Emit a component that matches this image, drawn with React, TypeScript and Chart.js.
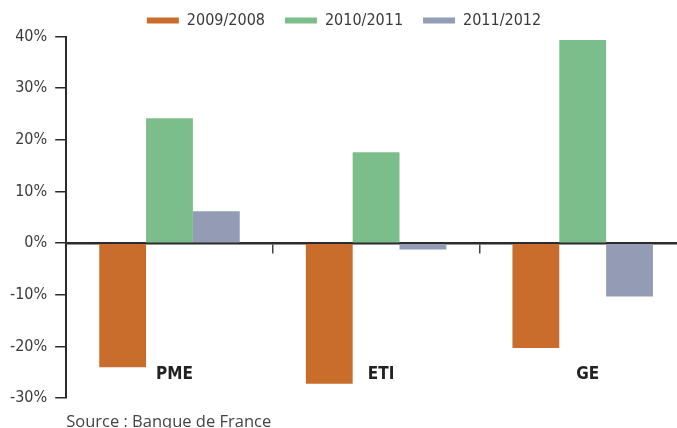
import React, { useEffect, useRef } from "react";
import { Chart, registerables } from "chart.js";

Chart.register(...registerables);

// ---- Data ----
const categories = ["PME", "ETI", "GE"];
const seriesLabels = ["2009/2008", "2010/2011", "2011/2012"];
const values2009vs2008 = [-24.0, -27.2, -20.3];
const values2010vs2011 = [24.2, 17.6, 39.3];
const values2011vs2012 = [6.2, -1.2, -10.3];
const yMin = -30;
const yMax = 40;
const yStep = 10;
const sourceText = "Source : Banque de France";

// ---- Styles ----
const seriesColors = ["#C96D2D", "#7CBE8B", "#939CB4"];
const narrow = "'DejaVu Sans Condensed', 'Liberation Sans', sans-serif";
const textColor = "#3a3a3a";
const axisColor = "#2b2b2b";
const categoryLabelLevel = -25.4;

const categoryLabelPlugin = {
  id: "categoryLabels",
  afterDraw(chart: any) {
    const { ctx, scales } = chart;
    const x = scales.x;
    const y = scales.y;
    ctx.save();
    ctx.font = `bold 17px ${narrow}`;
    ctx.fillStyle = "#222";
    ctx.textAlign = "center";
    ctx.textBaseline = "middle";
    categories.forEach((c, i) => {
      ctx.fillText(c, x.getPixelForValue(i) + 5, y.getPixelForValue(categoryLabelLevel));
    });
    ctx.restore();
  },
};

export default function App() {
  const ref = useRef<HTMLCanvasElement | null>(null);

  useEffect(() => {
    if (!ref.current) return;
    const datasets = [values2009vs2008, values2010vs2011, values2011vs2012].map((vals, i) => ({
      label: seriesLabels[i],
      data: vals,
      backgroundColor: seriesColors[i],
      borderWidth: 0,
      categoryPercentage: 0.68,
      barPercentage: 1.0,
    }));
    const chart = new Chart(ref.current, {
      type: "bar",
      data: { labels: categories, datasets },
      options: {
        responsive: false,
        animation: false,
        layout: { padding: { left: 2, right: 4, top: -7.5, bottom: 0 } },
        plugins: {
          legend: {
            position: "top",
            maxHeight: 44,
            labels: {
              boxWidth: 32,
              boxHeight: 6,
              padding: 20,
              color: textColor,
              font: { family: narrow, size: 16 },
            },
          },
          title: {
            display: true,
            text: sourceText,
            position: "bottom",
            align: "start",
            fullSize: false,
            color: "#444",
            font: { family: "'Open Sans', sans-serif", size: 16.5, weight: "normal" },
            padding: { top: 14, bottom: 0 },
          },
          tooltip: { enabled: false },
        },
        scales: {
          x: {
            position: { y: 0 } as any,
            z: 1,
            offset: true,
            grid: {
              display: true,
              drawOnChartArea: false,
              drawTicks: true,
              tickLength: 9,
              lineWidth: 1.5,
              color: "#444",
              offset: true,
            },
            border: { display: true, color: axisColor, width: 2.5 },
            ticks: { display: false },
          },
          y: {
            min: yMin,
            max: yMax,
            z: 1,
            ticks: {
              stepSize: yStep,
              padding: 8,
              color: textColor,
              font: { family: narrow, size: 16 },
              callback: (v: any) => `${v}%`,
            },
            grid: {
              display: true,
              drawOnChartArea: false,
              drawTicks: true,
              tickLength: 11,
              lineWidth: 1.5,
              color: axisColor,
            },
            border: { display: true, color: axisColor, width: 2 },
          },
        },
      },
      plugins: [categoryLabelPlugin],
    });
    return () => chart.destroy();
  }, []);

  return (
    <div
      style={{
        position: "fixed",
        left: 0,
        top: 0,
        width: 677,
        height: 428,
        overflow: "hidden",
        background: "#fff",
      }}
    >
      <canvas ref={ref} width={690} height={432} style={{ display: "block" }} />
    </div>
  );
}
